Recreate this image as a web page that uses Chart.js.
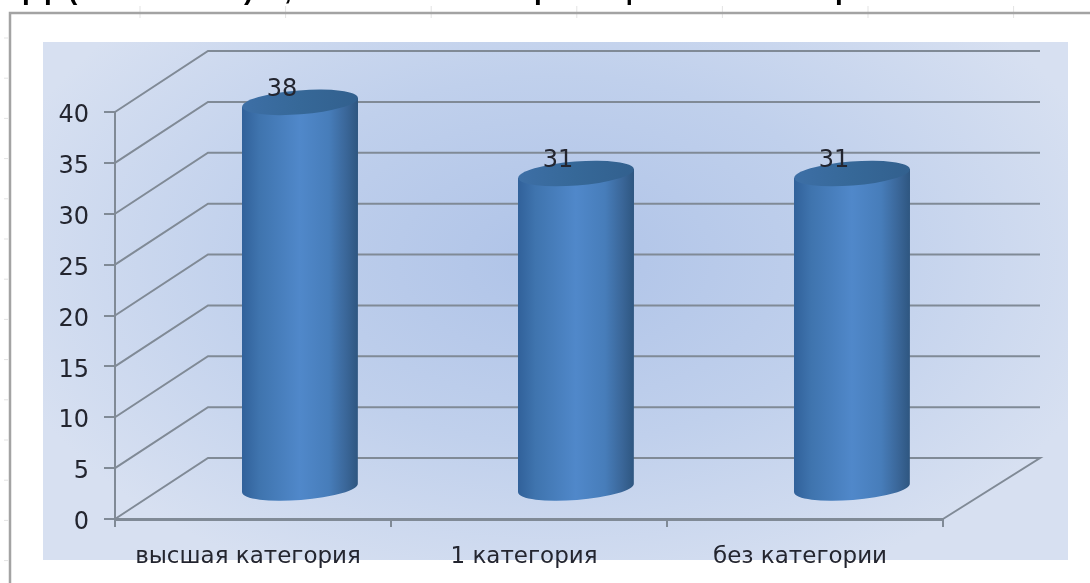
<!DOCTYPE html>
<html>
<head>
<meta charset="utf-8">
<style>
html, body { margin: 0; padding: 0; background: #fff; }
#wrap { position: relative; width: 1090px; height: 583px; }
canvas { filter: blur(0.6px); }
</style>
<script src="https://cdn.jsdelivr.net/npm/chart.js@4/dist/chart.umd.js"></script>
</head>
<body>
<div id="wrap"><canvas id="chart" width="1090" height="583"></canvas></div>
<script>
// data
const categories = ['высшая категория', '1 категория', 'без категории'];
const values = [38, 31, 31];
const yMax = 40, yStep = 5;
// only the descenders of the cropped heading are readable in the source
const headingLetters = ['р', 'р', '(', ')', ',', 'р', 'ц', 'р'];
const headingX = [22, 44, 68, 244, 284, 534, 614, 835];

// look of the fake 3d box
const depthX = 93, depthY = -61;
const barDepthX = 47, barDepthY = -30;
const capRy = 12, capTilt = -0.078;
const lineColor = '#808a96';
const textColor = '#23252f';
const font = 'DejaVu Sans';

// draw bars as tilted cylinders instead of rectangles
Chart.BarElement.prototype.draw = function (ctx) {
    const cx = this.x + barDepthX;
    const top = this.y + barDepthY;
    const bottom = this.base + barDepthY;
    const rx = this.width / 2;
    const dy = rx * Math.sin(capTilt);

    let body = ctx.createLinearGradient(cx - rx, 0, cx + rx, 0);
    body.addColorStop(0, '#31619a');
    body.addColorStop(0.15, '#3f74ae');
    body.addColorStop(0.5, '#5088ca');
    body.addColorStop(0.75, '#477dba');
    body.addColorStop(0.9, '#3a6698');
    body.addColorStop(1, '#2e5680');

    ctx.save();
    ctx.beginPath();
    ctx.moveTo(cx - rx, top - dy);
    ctx.lineTo(cx - rx, bottom - dy);
    ctx.ellipse(cx, bottom, rx, capRy, capTilt, Math.PI, 0, true);
    ctx.lineTo(cx + rx, top + dy);
    ctx.closePath();
    ctx.fillStyle = body;
    ctx.fill();

    let cap = ctx.createLinearGradient(cx - rx, 0, cx + rx, 0);
    cap.addColorStop(0, '#3d6fa6');
    cap.addColorStop(0.5, '#366898');
    cap.addColorStop(1, '#32608e');
    ctx.beginPath();
    ctx.ellipse(cx, top, rx, capRy, capTilt, 0, Math.PI * 2);
    ctx.fillStyle = cap;
    ctx.fill();
    ctx.restore();
};

const backdrop = {
    id: 'backdrop',
    beforeDraw(chart) {
        const ctx = chart.ctx;
        ctx.save();
        ctx.fillStyle = '#fff';
        ctx.fillRect(0, 0, chart.width, chart.height);

        // page frame with ruler ticks
        ctx.strokeStyle = '#e3e3e3';
        ctx.lineWidth = 1;
        for (let x = 140; x < 1090; x += 145.6) {
            ctx.beginPath(); ctx.moveTo(x, 6); ctx.lineTo(x, 18); ctx.stroke();
        }
        for (let y = 38; y < 583; y += 40.2) {
            ctx.beginPath(); ctx.moveTo(4, y); ctx.lineTo(8, y); ctx.stroke();
        }
        ctx.strokeStyle = '#a3a3a3';
        ctx.lineWidth = 2.5;
        ctx.beginPath();
        ctx.moveTo(10, 583); ctx.lineTo(10, 13); ctx.lineTo(1090, 13);
        ctx.stroke();

        // heading cut by the top of the picture
        ctx.fillStyle = '#000';
        ctx.font = 'bold 28px "Liberation Sans"';
        ctx.textBaseline = 'alphabetic';
        headingLetters.forEach((t, i) => ctx.fillText(t, headingX[i], -1));

        // blue panel
        const px = 43, py = 42, pw = 1025, ph = 518;
        ctx.beginPath();
        ctx.rect(px, py, pw, ph);
        ctx.clip();
        ctx.translate(px + pw / 2, py + ph * 0.42);
        ctx.scale(1, 0.62);
        const g = ctx.createRadialGradient(0, 0, 20, 0, 0, pw * 0.56);
        g.addColorStop(0, '#b0c4e8');
        g.addColorStop(0.5, '#c0d0ec');
        g.addColorStop(1, '#d7e0f1');
        ctx.fillStyle = g;
        ctx.fillRect(-pw, -ph * 2, pw * 2, ph * 4);
        ctx.restore();
    },
    beforeDatasetsDraw(chart) {
        // side wall, back wall and floor edge from the value scale
        const ctx = chart.ctx, y = chart.scales.y, area = chart.chartArea;
        ctx.save();
        ctx.strokeStyle = lineColor;
        ctx.lineWidth = 2;
        y.ticks.forEach(t => {
            const py = y.getPixelForValue(t.value);
            ctx.beginPath();
            ctx.moveTo(area.left, py);
            ctx.lineTo(area.left + depthX, py + depthY);
            ctx.lineTo(area.right + depthX + 4, py + depthY);
            if (t.value === 0) ctx.lineTo(area.right, py);
            ctx.stroke();
        });
        ctx.restore();
    },
    afterDatasetsDraw(chart) {
        // value labels sit on the left part of each cap
        const ctx = chart.ctx;
        ctx.save();
        ctx.fillStyle = textColor;
        ctx.font = '24px "' + font + '"';
        ctx.textAlign = 'center';
        ctx.textBaseline = 'middle';
        chart.getDatasetMeta(0).data.forEach((bar, i) => {
            ctx.fillText(values[i], bar.x + 29, bar.y - 43);
        });
        ctx.restore();
    }
};

new Chart(document.getElementById('chart'), {
    type: 'bar',
    data: {
        labels: categories,
        datasets: [{ data: values, barThickness: 116, backgroundColor: '#4f86c6', clip: false }]
    },
    options: {
        responsive: false,
        animation: false,
        layout: { padding: { left: 0, right: 147, top: 112, bottom: 0 } },
        plugins: { legend: { display: false }, title: { display: false }, tooltip: { enabled: false } },
        scales: {
            x: {
                afterFit(scale) { scale.height = 64; },
                grid: { drawOnChartArea: false, color: lineColor, lineWidth: 2, tickLength: 8 },
                border: { color: lineColor, width: 3 },
                ticks: { color: textColor, font: { family: font, size: 23 }, padding: 16, labelOffset: -5, maxRotation: 0 }
            },
            y: {
                min: 0,
                max: yMax,
                afterFit(scale) { scale.width = 115; },
                grid: { drawOnChartArea: false, color: lineColor, lineWidth: 2, tickLength: 11 },
                border: { color: lineColor, width: 2 },
                ticks: { stepSize: yStep, color: textColor, font: { family: font, size: 24 }, padding: 15, labelOffset: 4 }
            }
        }
    },
    plugins: [backdrop]
});
</script>
</body>
</html>
